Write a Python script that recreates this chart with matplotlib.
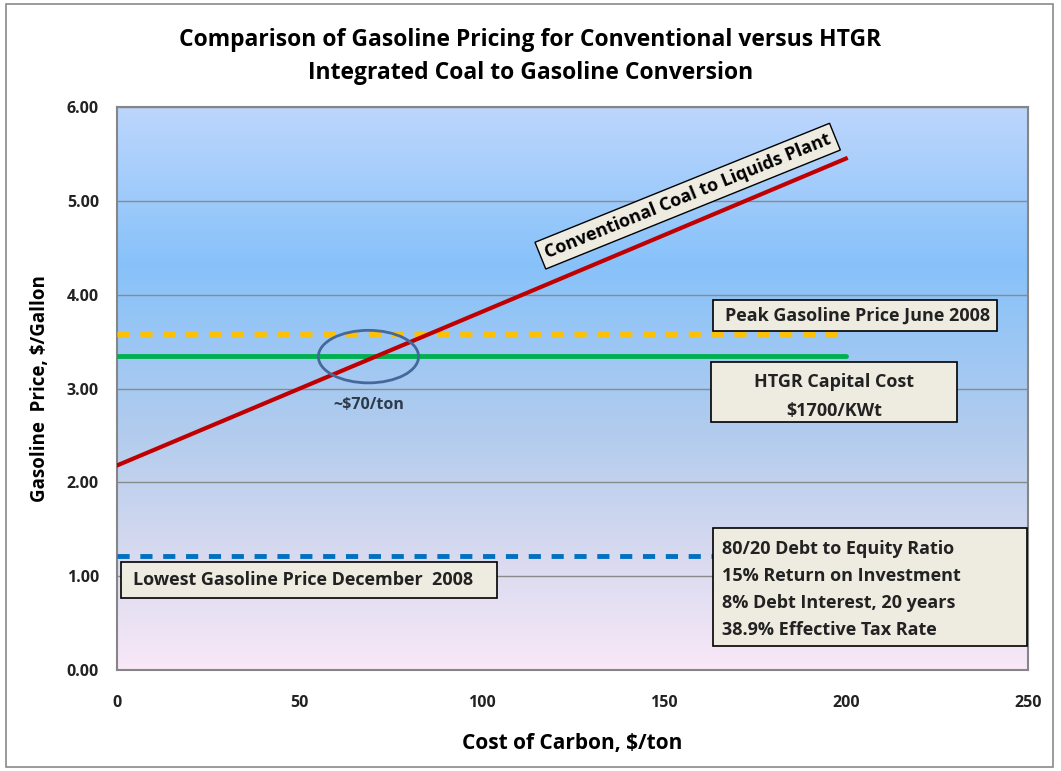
import numpy as np
import matplotlib
matplotlib.use('Agg')
import matplotlib.pyplot as plt
from matplotlib.patches import Ellipse, Rectangle
from matplotlib.colors import LinearSegmentedColormap

# ---- data ----
carbon_cost = [0, 200]                 # $/ton
ctl_price = [2.18, 5.45]               # conventional coal to liquids
peak_price = [3.58, 3.58]              # June 2008
htgr_price = [3.35, 3.35]              # HTGR capital cost
lowest_price = [1.21, 1.21]            # December 2008
crossover = (69, 3.34)                 # ~$70/ton
x_ticks = [0, 50, 100, 150, 200, 250]
y_ticks = [0, 1, 2, 3, 4, 5, 6]
assumptions = ['80/20 Debt to Equity Ratio', '15% Return on Investment',
               '8% Debt Interest, 20 years', '38.9% Effective Tax Rate']

plt.rcParams['font.family'] = ['Open Sans', 'DejaVu Sans']

fig = plt.figure(figsize=(10.61, 7.71), dpi=100)
ax = fig.add_axes([0.1103, 0.131, 0.8586, 0.7302])

# background gradient (pink bottom -> blue top)
bg = LinearSegmentedColormap.from_list('bg', [
    (0.0, (0.975, 0.91, 0.97)),
    (0.18, (0.86, 0.86, 0.94)),
    (0.42, (0.70, 0.80, 0.93)),
    (0.72, (0.53, 0.76, 0.98)),
    (1.0, (0.74, 0.84, 0.99)),
])
grad = np.linspace(0, 1, 256).reshape(-1, 1)
ax.imshow(grad, aspect='auto', cmap=bg, origin='lower',
          extent=[0, 1, 0, 1], transform=ax.transAxes, zorder=0)

ax.set_xlim(0, 250)
ax.set_ylim(0, 6)
ax.set_xticks(x_ticks)
ax.set_yticks(y_ticks)
ax.set_yticklabels([f'{v:.2f}' for v in y_ticks])
ax.tick_params(axis='both', length=0, labelsize=11.5)
ax.tick_params(axis='x', pad=18)
ax.tick_params(axis='y', pad=13)
for lab in ax.get_xticklabels() + ax.get_yticklabels():
    lab.set_fontweight('bold')
    lab.set_color('#222222')
ax.grid(axis='y', color='#8a8a8a', lw=1)
for sp in ax.spines.values():
    sp.set_color('#868686')
    sp.set_linewidth(1.5)

# lines
ax.plot(carbon_cost, peak_price, color='#ffc000', lw=3.5, ls=(0, (2.5, 2.2)), zorder=3)
ax.plot(carbon_cost, htgr_price, color='#00b050', lw=3.5, zorder=3, solid_capstyle='round')
ax.plot(carbon_cost, lowest_price, color='#0070c0', lw=3.5, ls=(0, (2.5, 2.2)), zorder=3)
ax.plot(carbon_cost, ctl_price, color='#c00000', lw=3, zorder=4)

ax.add_patch(Ellipse(crossover, 27.5, 0.56, fill=False, ec='#45689a', lw=2, zorder=5))
ax.text(crossover[0], 2.82, '~$70/ton', ha='center', va='center', fontsize=11.5,
        fontweight='bold', color='#2e3a4a', zorder=5)

# rotated label for the conventional line
ax.text(156.6, 5.05, 'Conventional Coal to Liquids Plant', rotation=22, ha='center',
        va='center', fontsize=13, fontweight='bold', rotation_mode='anchor', zorder=6,
        bbox=dict(boxstyle='square,pad=0.3', fc='#eeece1', ec='black', lw=1))


def note_box(x0, x1, y0, y1):
    ax.add_patch(Rectangle((x0, y0), x1 - x0, y1 - y0, fc='#eeece1', ec='black',
                           lw=1.2, zorder=6))


txt = dict(fontsize=13, fontweight='bold', color='#222222', zorder=7, va='center')

note_box(163.6, 241.5, 3.61, 3.94)
ax.text(166.8, 3.78, 'Peak Gasoline Price June 2008', ha='left', **txt)

note_box(163.0, 230.5, 2.64, 3.28)
ax.text(196.8, 3.07, 'HTGR Capital Cost', ha='center', **txt)
ax.text(196.8, 2.76, '$1700/KWt', ha='center', **txt)

note_box(1.1, 104.3, 0.767, 1.151)
ax.text(4.4, 0.96, 'Lowest Gasoline Price December  2008', ha='left', **txt)

note_box(163.6, 249.7, 0.256, 1.513)
for yy, line in zip([1.29, 1.00, 0.714, 0.426], assumptions):
    ax.text(166.0, yy, line, ha='left', **txt)

ax.set_xlabel('Cost of Carbon, $/ton', fontsize=15, fontweight='bold', labelpad=16)
ax.set_ylabel('Gasoline  Price, $/Gallon', fontsize=13.5, fontweight='bold', labelpad=12)

fig.text(0.5, 0.927, 'Comparison of Gasoline Pricing for Conventional versus HTGR\n'
         'Integrated Coal to Gasoline Conversion', ha='center', va='center',
         fontsize=16.5, fontweight='bold', linespacing=1.5)

fig.patches.append(Rectangle((0.006, 0.005), 0.986, 0.99, transform=fig.transFigure,
                             fill=False, ec='#8a8a8a', lw=1.2))

fig.savefig('out.png', dpi=100)
